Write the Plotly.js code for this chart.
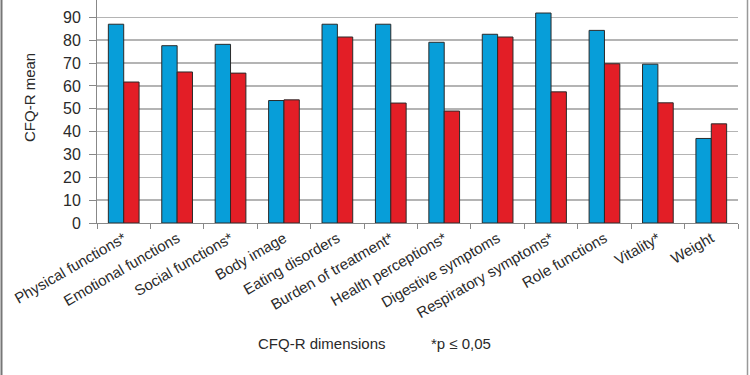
<!DOCTYPE html>
<html>
<head>
<meta charset="utf-8">
<script src="https://cdn.plot.ly/plotly-3.0.1.min.js"></script>
<style>
html,body{margin:0;padding:0;background:#fff;}
#chart{width:750px;height:375px;}
</style>
</head>
<body>
<div id="chart"></div>
<script>
var categories = ["Physical functions*", "Emotional functions", "Social functions*", "Body image", "Eating disorders", "Burden of treatment*", "Health perceptions*", "Digestive symptoms", "Respiratory symptoms*", "Role functions", "Vitality*", "Weight"];
var blueValues = [87.0, 77.6, 78.2, 53.6, 87.0, 87.0, 79.1, 82.6, 91.9, 84.3, 69.5, 37.0];
var redValues  = [61.7, 66.1, 65.6, 53.9, 81.4, 52.5, 49.0, 81.4, 57.4, 69.7, 52.6, 43.4];
var yTicks = [0, 10, 20, 30, 40, 50, 60, 70, 80, 90];

var fam = "Liberation Sans, Arial, sans-serif";
var txt = "#2a2a2a";

var traces = [
  {type: "bar", x: categories, y: blueValues, marker: {color: "#079ed9", line: {color: "#2a2a2a", width: 1}}, hoverinfo: "y"},
  {type: "bar", x: categories, y: redValues, marker: {color: "#e31e26", line: {color: "#2a2a2a", width: 1}}, hoverinfo: "y"}
];

var layout = {
  width: 750, height: 375,
  margin: {l: 97, r: 12, t: 0, b: 152},
  paper_bgcolor: "#fff", plot_bgcolor: "#fff",
  showlegend: false,
  barmode: "group", bargap: 0.425, bargroupgap: 0,
  font: {family: fam, size: 15, color: txt},
  xaxis: {
    type: "category",
    tickangle: -30,
    tickson: "boundaries",
    ticks: "outside", ticklen: 5, tickcolor: "#888", tickwidth: 1,
    showgrid: false,
    showline: true, linecolor: "#888", linewidth: 1,
    tickfont: {family: fam, size: 15, color: txt},
    automargin: false
  },
  yaxis: {
    range: [0, 97.6],
    tickvals: yTicks,
    ticks: "outside", ticklen: 7, tickcolor: "#888", tickwidth: 1,
    ticklabelstandoff: 5,
    showgrid: true, gridcolor: "#b4b4b4", gridwidth: 1.5,
    showline: true, linecolor: "#888", linewidth: 1,
    zeroline: false,
    tickfont: {family: fam, size: 16, color: txt},
    automargin: false
  },
  annotations: [
    {text: "CFQ-R mean", xref: "paper", yref: "paper", x: (30 - 97) / 641, y: 1 - 98 / 223, textangle: -90, showarrow: false, font: {family: fam, size: 15, color: txt}, xanchor: "center", yanchor: "middle"},
    {text: "CFQ-R dimensions", xref: "paper", yref: "paper", x: (256 - 97) / 641, y: -(343 - 223) / 223, showarrow: false, font: {family: fam, size: 15, color: txt}, xanchor: "left", yanchor: "middle"},
    {text: "*p \u2264 0,05", xref: "paper", yref: "paper", x: (429 - 97) / 641, y: -(343 - 223) / 223, showarrow: false, font: {family: fam, size: 15, color: txt}, xanchor: "left", yanchor: "middle"}
  ],
  shapes: [
    {type: "line", xref: "paper", yref: "paper", x0: (1.5 - 97) / 641, x1: (1.5 - 97) / 641, y0: 1, y1: -(375 - 223) / 223, line: {color: "#777", width: 2}},
    {type: "line", xref: "paper", yref: "paper", x0: (747.5 - 97) / 641, x1: (747.5 - 97) / 641, y0: 1, y1: -(375 - 223) / 223, line: {color: "#999", width: 1.5}}
  ]
};

Plotly.newPlot("chart", traces, layout, {displayModeBar: false, staticPlot: true});
</script>
</body>
</html>
